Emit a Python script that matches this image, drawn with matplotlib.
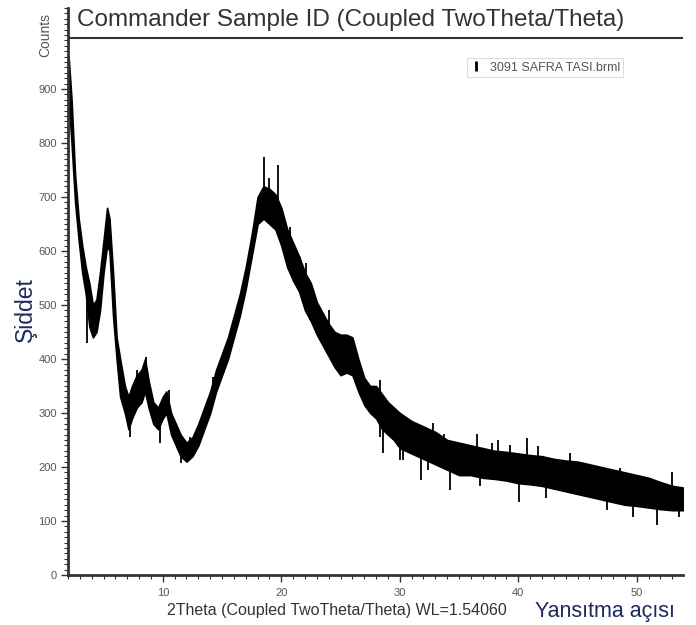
import matplotlib
matplotlib.use("Agg")
import matplotlib.pyplot as plt
from matplotlib.lines import Line2D
from matplotlib.ticker import MultipleLocator

plt.rcParams['font.family'] = ['Liberation Sans', 'DejaVu Sans']

# diffractogram: 2theta, lower and upper edge of the noisy trace
two_theta = [2.05, 2.3, 2.6, 2.9, 3.2, 3.5, 3.8, 4.1, 4.4, 4.7, 5.0, 5.3, 5.5, 5.8,
             6.1, 6.4, 6.8, 7.1, 7.4, 7.8, 8.2, 8.5, 8.8, 9.2, 9.6, 10.0, 10.3, 10.7,
             11.1, 11.5, 12.0, 12.5, 13.0, 13.5, 14.0, 14.5, 15.0, 15.5, 16.0, 16.5,
             17.0, 17.5, 18.0, 18.5, 19.0, 19.5, 20.0, 20.5, 21.0, 21.5, 22.0, 22.5,
             23.0, 23.5, 24.0, 24.5, 25.0, 25.5, 26.0, 26.5, 27.0, 27.5, 28.0, 28.5,
             29.0, 29.5, 30.0, 31.0, 32.0, 33.0, 34.0, 35.0, 36.0, 37.0, 38.0, 39.0,
             40.0, 41.0, 42.0, 43.0, 44.0, 45.0, 46.0, 47.0, 48.0, 49.0, 50.0, 51.0,
             52.0, 53.0, 53.9]
counts_low = [880, 800, 690, 620, 560, 520, 460, 440, 450, 490, 560, 610, 600, 480,
              400, 330, 300, 270, 290, 310, 320, 340, 310, 280, 270, 290, 300, 260,
              240, 220, 210, 220, 240, 270, 300, 340, 370, 400, 440, 480,
              530, 590, 650, 660, 650, 640, 610, 570, 545, 525, 490, 470,
              445, 425, 405, 385, 370, 375, 370, 340, 315, 300, 290, 270,
              260, 250, 235, 225, 215, 205, 195, 185, 185, 180, 178, 175,
              170, 168, 165, 160, 155, 150, 145, 140, 135, 130, 128, 125,
              122, 120, 120]
counts_high = [960, 880, 740, 660, 610, 570, 540, 500, 510, 560, 620, 680, 660, 560,
               440, 400, 350, 330, 350, 370, 380, 400, 360, 320, 310, 330, 340, 300,
               280, 260, 245, 255, 280, 310, 340, 380, 410, 440, 480, 520,
               570, 630, 700, 720, 715, 705, 680, 640, 615, 590, 560, 540,
               505, 485, 465, 450, 445, 445, 440, 400, 365, 350, 350, 335,
               320, 310, 300, 285, 275, 265, 250, 245, 240, 235, 230, 228,
               225, 222, 220, 215, 212, 210, 205, 200, 195, 190, 185, 180,
               172, 165, 162]

# single spikes sticking out of the band
spike_x = [3.58, 4.1, 7.2, 7.8, 8.6, 9.8, 10.5, 11.5, 12.3, 14.2,
           18.5, 19.0, 19.7, 20.7, 21.6, 22.1, 22.4, 24.0, 28.3, 28.3, 28.6,
           30.0, 30.3, 31.8, 32.4, 32.8, 33.7, 34.2, 36.5, 36.8, 37.8, 38.3,
           39.3, 40.1, 40.7, 41.7, 42.3, 44.4, 46.1, 47.5, 48.6, 49.7, 50.5,
           51.7, 53.0, 53.6]
spike_y = [430, 448, 256, 380, 404, 244, 343, 207, 256, 367,
           774, 735, 759, 645, 589, 577, 472, 490, 361, 256, 226,
           213, 213, 176, 194, 281, 262, 157, 262, 164, 244, 250,
           241, 135, 254, 238, 142, 226, 200, 120, 198, 108, 182,
           93, 191, 108]

legend_label = '3091 SAFRA TASI.brml'

fig = plt.figure(figsize=(6.96, 6.25), dpi=100)
ax = fig.add_axes([68 / 696, 50 / 625, 615 / 696, 567 / 625])

ax.fill_between(two_theta, counts_low, counts_high, color='black', lw=1.2)
nearest = [min(range(len(two_theta)), key=lambda k: abs(two_theta[k] - sx)) for sx in spike_x]
spike_base = [(counts_low[i] + counts_high[i]) / 2 for i in nearest]
ax.vlines(spike_x, spike_base, spike_y, color='black', lw=1.3)

ax.set_xlim(2, 53.9)
ax.set_ylim(0, 1050)

for s in ['top', 'right']:
    ax.spines[s].set_visible(False)
for s in ['left', 'bottom']:
    ax.spines[s].set_linewidth(2)
    ax.spines[s].set_color('#333333')

ax.xaxis.set_minor_locator(MultipleLocator(1))
ax.yaxis.set_minor_locator(MultipleLocator(10))
ax.set_xticks([10, 20, 30, 40, 50])
ax.set_yticks(range(0, 1000, 100))
ax.tick_params(axis='both', which='major', length=5, width=1, color='#333333',
               labelsize=8, labelcolor='#555555')
ax.tick_params(axis='x', which='major', pad=4)
ax.tick_params(axis='y', which='major', pad=3)
ax.tick_params(axis='both', which='minor', length=3, width=0.8, color='#333333')

# title strip inside the frame
ax.axhline((575 - 38) / 0.54, color='#333333', lw=1.5)
ax.text(0.015, 0.978, 'Commander Sample ID (Coupled TwoTheta/Theta)',
        transform=ax.transAxes, fontsize=17.5, color='#333333', va='center', ha='left')

handle = Line2D([], [], color='black', marker='|', linestyle='None', markersize=7, markeredgewidth=2)
leg = ax.legend([handle], [legend_label], loc='upper left', bbox_to_anchor=(0.638, 0.922),
                fontsize=9, frameon=True, fancybox=False, handlelength=1, borderpad=0.25,
                handletextpad=0.6, labelcolor='#555555')
leg.get_frame().set_edgecolor('#cfd6e0')
leg.get_frame().set_linewidth(0.8)

fig.text(45 / 696, 1 - 35 / 625, 'Counts', rotation=90, fontsize=10, color='#555555',
         ha='center', va='center')
fig.text(0.5 * (162 + 511) / 696, 1 - 611 / 625, '2Theta (Coupled TwoTheta/Theta) WL=1.54060',
         fontsize=11.5, color='#333333', ha='center', va='center')
fig.text(25 / 696, 1 - 310 / 625, 'Şiddet', rotation=90, fontsize=16.5, color='#1f2a5c',
         ha='center', va='center')
fig.text(605 / 696, 1 - 612 / 625, 'Yansıtma açısı', fontsize=15.5, color='#1f2a5c',
         ha='center', va='center')

fig.savefig('out.png', dpi=100)
